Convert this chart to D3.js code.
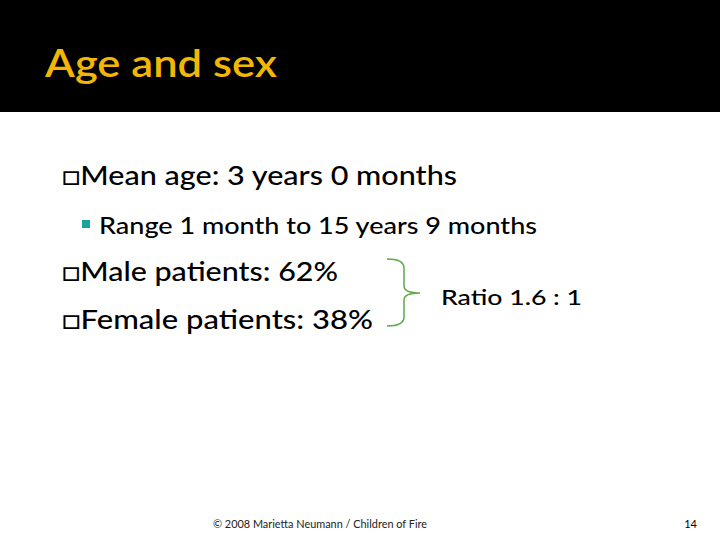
<!DOCTYPE html>
<html><head><meta charset="utf-8">
<script src="https://cdn.jsdelivr.net/npm/d3@7"></script>
<style>body{margin:0;background:#fff}</style></head>
<body><svg id="s" width="720" height="540"></svg>
<script>
const title = "Age and sex";
const ageLines = ["Mean age: 3 years 0 months", "Range 1 month to 15 years 9 months"];
const sexLabels = ["Male patients", "Female patients"];
const sexValues = [62, 38];
const ratioText = "Ratio 1.6 : 1";
const footer = "© 2008 Marietta Neumann / Children of Fire";
const pageNo = "14";

const svg = d3.select("#s");
const font = "Lato, 'Open Sans', sans-serif";
function txt(x,y,size,s,len,weight){
  const t = svg.append("text").attr("x",x).attr("y",y).attr("font-family",font)
    .attr("font-size",size).attr("font-weight",weight||500).text(s);
  if(len) t.attr("textLength",len).attr("lengthAdjust","spacingAndGlyphs");
  return t;
}
svg.append("rect").attr("width",720).attr("height",112).attr("fill","#000");
txt(45,77,38,title,232,600).attr("fill","#f2b705");

txt(62,185,27,"\u25A1"+ageLines[0],395);
svg.append("rect").attr("x",82).attr("y",220).attr("width",8).attr("height",8).attr("fill","#1aa39a");
txt(99,234,23,ageLines[1],438);
txt(62,281,27,"\u25A1"+`${sexLabels[0]}: ${sexValues[0]}%`,276);
txt(62,329,27,"\u25A1"+`${sexLabels[1]}: ${sexValues[1]}%`,311);

svg.append("path").attr("fill","none").attr("stroke","#5fa84a").attr("stroke-width",1.5)
  .attr("d","M387,259 Q404,259 404,268 L404,286 Q404,293 420,293 Q404,293 404,300 L404,317 Q404,326 387,326");
txt(441,305,22,ratioText,141);

txt(320,528,11,footer,214,400).attr("text-anchor","middle").attr("fill","#222");
txt(697,528,11,pageNo,null,400).attr("text-anchor","end");
</script></body></html>
